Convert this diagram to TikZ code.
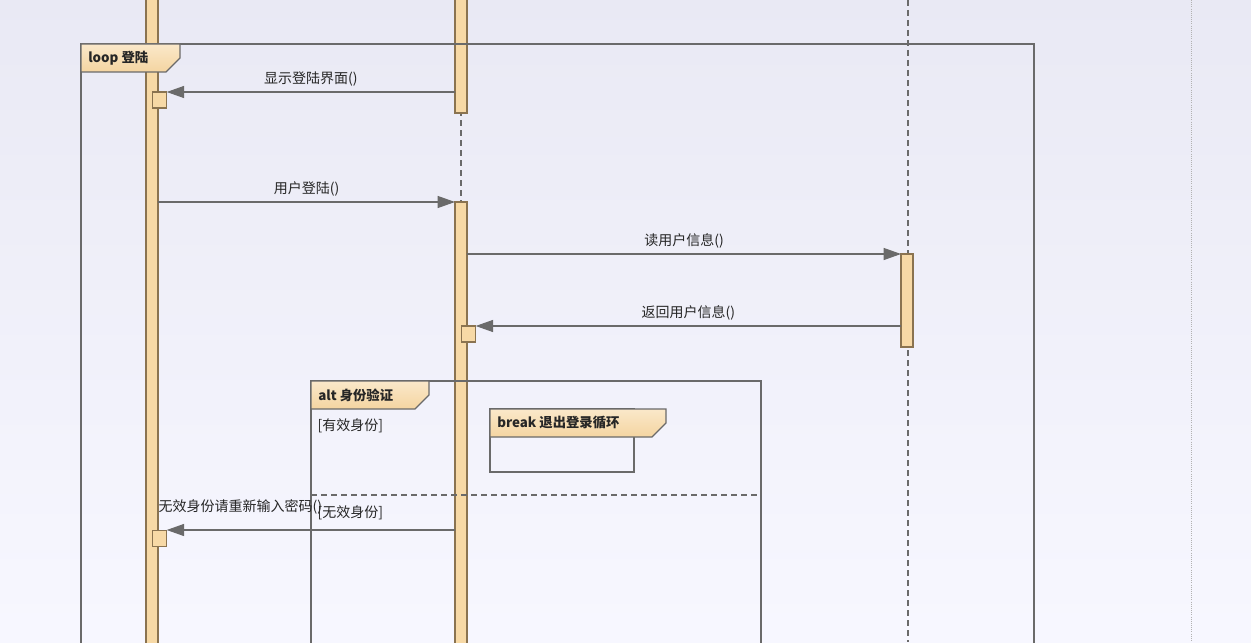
\documentclass[tikz,border=0pt]{standalone}
\usepackage{fontspec}
\setmainfont{Noto Sans CJK SC}
\usetikzlibrary{arrows.meta}
\definecolor{barfill}{HTML}{F7D9A6}
\definecolor{barline}{HTML}{8A7350}
\definecolor{lineg}{HTML}{6A6A6A}
\tikzset{
    bar/.style={draw=barline,fill=barfill,line width=0.8pt},
    frame/.style={draw=lineg,line width=0.9pt},
    tab/.style={draw=lineg,line width=0.9pt,top color=barfill!60,bottom color=barfill!95!brown},
    msg/.style={draw=lineg,line width=0.8pt,-{Triangle[length=13pt,width=9pt]}},
    lbl/.style={font=\fontsize{10.5}{12}\selectfont,text=black!85,inner sep=1pt},
    tabtext/.style={font=\fontsize{10}{12}\selectfont\bfseries,text=black!85,anchor=west,inner sep=0pt},
    lifeline/.style={dash pattern=on 4.5pt off 3pt,lineg,line width=0.8pt},
}
\newcommand\FrameTab[5]{% x1,y1,x2,y2,name
    \draw[tab] (#1,#2) -- (#3,#2) -- (#3,#2+14) -- (#3-14,#4) -- (#1,#4) -- cycle;
    \coordinate (#5) at (#1+7,#2+14);
}
\begin{document}
\begin{tikzpicture}[x=0.75pt,y=-0.75pt]
    \useasboundingbox (0,0) rectangle (1251,642);
    \shade[top color=black!5!blue!5!white!92!gray,bottom color=white!97!blue] (0,0) rectangle (1251,642);
    % lifelines
    \draw[lifeline] (461,0) -- (461,642);
    \draw[lifeline] (908,0) -- (908,642);
    \draw[densely dotted,gray!60,line width=0.6pt] (1191,0) -- (1191,642);
    \draw[bar] (146,-2) rectangle (158,644);
    \draw[bar] (455,-2) rectangle (467,113);
    \draw[bar] (455,202) rectangle (467,644);
    \draw[bar] (901,254) rectangle (913,347);
    % frames
    \draw[frame] (81,644) -- (81,44) -- (1034,44) -- (1034,644);
    \FrameTab{81}{44}{180}{72}{loopT}
    \node[tabtext] (loopL) at (loopT) {loop 登陆};
    \draw[frame] (311,644) -- (311,381) -- (761,381) -- (761,644);
    \FrameTab{311}{381}{429}{409}{altT}
    \node[tabtext] (altL) at (altT) {alt 身份验证};
    \node[lbl,anchor=west] (g1) at (316,426) {[有效身份]};
    \draw[lifeline] (311,495) -- (761,495);
    \node[lbl,anchor=west] (g2) at (316,513) {[无效身份]};
    \draw[frame] (490,409) rectangle (634,472);
    \FrameTab{490}{409}{666}{437}{brkT}
    \node[tabtext] (brkL) at (brkT) {break 退出登录循环};
    % execution boxes
    \node[bar,minimum width=10pt,minimum height=12pt,inner sep=0pt] (a1) at (159.5,100) {};
    \node[bar,minimum width=10pt,minimum height=12pt,inner sep=0pt] (a2) at (468.5,334) {};
    \node[bar,minimum width=10pt,minimum height=12pt,inner sep=0pt] (a3) at (159.5,538.5) {};
    \coordinate (s1) at (455,92);
    \coordinate (s2) at (158,202);
    \coordinate (t2) at (455,202);
    \coordinate (s3) at (467,254);
    \coordinate (t3) at (901,254);
    \coordinate (s4) at (901,326);
    \coordinate (s5) at (455,530);
    % messages
    \draw[msg] (s1) -- (a1.east |- s1) node[lbl,midway,above=3pt] {显示登陆界面()};
    \draw[msg] (s2) -- (t2) node[lbl,midway,above=3pt] {用户登陆()};
    \draw[msg] (s3) -- (t3) node[lbl,midway,above=3pt] {读用户信息()};
    \draw[msg] (s4) -- (a2.east |- s4) node[lbl,midway,above=3pt] {返回用户信息()};
    \draw[msg] (s5) -- (a3.east |- s5);
    \node[lbl,anchor=west] (m5) at (157,507) {无效身份请重新输入密码()};
\end{tikzpicture}
\end{document}
